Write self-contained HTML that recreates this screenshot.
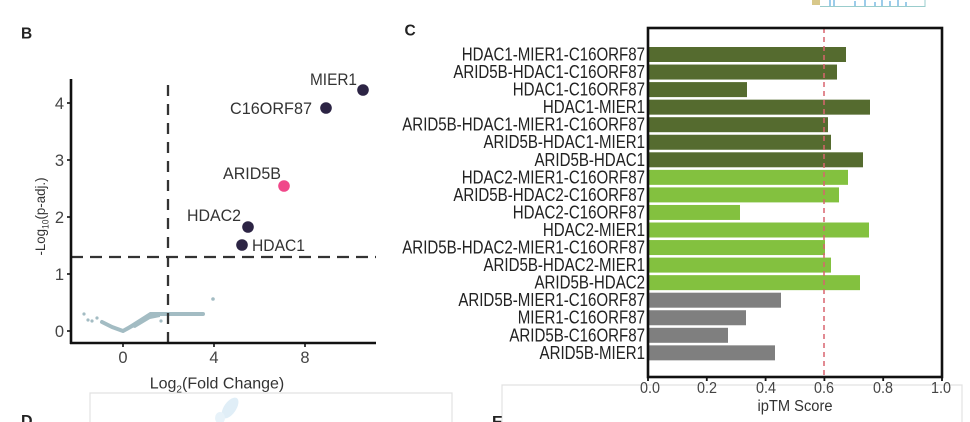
<!DOCTYPE html>
<html><head><meta charset="utf-8"><style>
html,body{margin:0;padding:0;background:#fff;}
svg{display:block;font-family:"Liberation Sans",Arial,sans-serif;}
</style></head><body>
<svg width="970" height="422" viewBox="0 0 970 422" xmlns="http://www.w3.org/2000/svg">
<rect width="970" height="422" fill="#fff"/>
<!-- top-right fragment -->
<g stroke="#5aa9dc" stroke-width="1.2">
<line x1="830" y1="0" x2="830" y2="6"/><line x1="834" y1="0" x2="834" y2="6"/><line x1="855" y1="1" x2="855" y2="6"/><line x1="865" y1="0" x2="865" y2="6"/><line x1="875" y1="2" x2="875" y2="6"/><line x1="882" y1="0" x2="882" y2="6"/><line x1="890" y1="1" x2="890" y2="6"/><line x1="898" y1="0" x2="898" y2="6"/><line x1="906" y1="2" x2="906" y2="6"/>
</g>
<line x1="820" y1="6.5" x2="925" y2="6.5" stroke="#9cc" stroke-width="1"/>
<line x1="925" y1="0" x2="925" y2="7" stroke="#9cc" stroke-width="1"/>
<rect x="812" y="0" width="8" height="5" fill="#d8c88a"/>

<!-- faint panel boxes -->
<g stroke="#e2e2e2" stroke-width="1.2" fill="none">
<polyline points="90,422 90,393 452,393 452,422"/>
<polyline points="502,422 502,385 962,385 962,422"/>
</g>
<!-- blob in D -->
<g opacity="0.35">
<ellipse cx="230" cy="408" rx="6" ry="12" fill="#a9d1ea" transform="rotate(35 230 408)"/>
<ellipse cx="220" cy="418" rx="5" ry="6" fill="#bcdcef"/>
</g>
<text x="21" y="426" font-size="16" font-weight="bold" fill="#222">D</text>
<text x="492" y="427" font-size="16" font-weight="bold" fill="#222">E</text>

<!-- Panel B -->
<text x="21" y="38.5" font-size="15.5" font-weight="bold" fill="#222">B</text>
<!-- gray cloud -->
<g fill="#a3bcc3">
<polyline points="102,322 112,327 123,331 132,326 142,320 150,316 160,314 203,314" fill="none" stroke="#a3bcc3" stroke-width="4" stroke-linejoin="round" stroke-linecap="round"/>
<polygon points="128,326 150,312 160,312 160,317 150,319 135,328"/>
<circle cx="84" cy="314" r="1.6"/><circle cx="88" cy="320" r="1.6"/><circle cx="92" cy="321" r="1.6"/><circle cx="97" cy="318" r="1.6"/><circle cx="161" cy="321" r="1.6"/><circle cx="213" cy="299" r="1.8"/>
</g>
<!-- dashed lines -->
<line x1="168" y1="85" x2="168" y2="343" stroke="#333" stroke-width="2.3" stroke-dasharray="11 8"/>
<line x1="71" y1="257" x2="376" y2="257" stroke="#333" stroke-width="2.3" stroke-dasharray="12 7"/>
<!-- axes -->
<line x1="71" y1="79" x2="71" y2="344" stroke="#111" stroke-width="2.6"/>
<line x1="70" y1="343" x2="376" y2="343" stroke="#111" stroke-width="2.6"/>
<g stroke="#111" stroke-width="1.6">
<line x1="67" y1="331" x2="71" y2="331"/><line x1="67" y1="274" x2="71" y2="274"/><line x1="67" y1="217" x2="71" y2="217"/><line x1="67" y1="160" x2="71" y2="160"/><line x1="67" y1="103" x2="71" y2="103"/>
<line x1="123" y1="343" x2="123" y2="347"/><line x1="214" y1="343" x2="214" y2="347"/><line x1="305" y1="343" x2="305" y2="347"/>
</g>
<g font-size="16.5" fill="#444" text-anchor="end">
<text x="64" y="337">0</text><text x="64" y="280">1</text><text x="64" y="223">2</text><text x="64" y="166">3</text><text x="64" y="109">4</text>
</g>
<g font-size="16.5" fill="#444" text-anchor="middle">
<text x="123" y="363">0</text><text x="214" y="363">4</text><text x="305" y="363">8</text>
</g>
<text x="217" y="388.5" font-size="16" fill="#333" text-anchor="middle">Log<tspan font-size="10" dy="4">2</tspan><tspan dy="-4">(Fold Change)</tspan></text>
<text transform="translate(45,216.5) rotate(-90)" font-size="14" fill="#333" text-anchor="middle" textLength="78" lengthAdjust="spacingAndGlyphs">-Log<tspan font-size="9" dy="3.5">10</tspan><tspan dy="-3.5">(p-adj.)</tspan></text>
<!-- points -->
<circle cx="363" cy="90" r="5.8" fill="#2c2444"/>
<circle cx="326" cy="108" r="5.8" fill="#2c2444"/>
<circle cx="284" cy="186" r="5.8" fill="#f0488a"/>
<circle cx="248" cy="227" r="5.8" fill="#2c2444"/>
<circle cx="242" cy="245" r="5.8" fill="#2c2444"/>
<g font-size="17" fill="#333">
<text x="357" y="85" text-anchor="end" textLength="47" lengthAdjust="spacingAndGlyphs">MIER1</text>
<text x="312" y="114" text-anchor="end" textLength="82" lengthAdjust="spacingAndGlyphs">C16ORF87</text>
<text x="223" y="179" textLength="58" lengthAdjust="spacingAndGlyphs">ARID5B</text>
<text x="187" y="221" textLength="54" lengthAdjust="spacingAndGlyphs">HDAC2</text>
<text x="252" y="251" textLength="53" lengthAdjust="spacingAndGlyphs">HDAC1</text>
</g>

<!-- Panel C -->
<text x="404.5" y="35.5" font-size="15.5" font-weight="bold" fill="#222">C</text>
<g>
<rect x="649" y="47" width="197" height="15" fill="#556b2f"/>
<rect x="649" y="64.55" width="188" height="15" fill="#556b2f"/>
<rect x="649" y="82.1" width="98" height="15" fill="#556b2f"/>
<rect x="649" y="99.65" width="221" height="15" fill="#556b2f"/>
<rect x="649" y="117.2" width="179" height="15" fill="#556b2f"/>
<rect x="649" y="134.75" width="182" height="15" fill="#556b2f"/>
<rect x="649" y="152.3" width="214" height="15" fill="#556b2f"/>
<rect x="649" y="169.85" width="199" height="15" fill="#83c13f"/>
<rect x="649" y="187.4" width="190" height="15" fill="#83c13f"/>
<rect x="649" y="204.95" width="91" height="15" fill="#83c13f"/>
<rect x="649" y="222.5" width="220" height="15" fill="#83c13f"/>
<rect x="649" y="240.05" width="176" height="15" fill="#83c13f"/>
<rect x="649" y="257.6" width="182" height="15" fill="#83c13f"/>
<rect x="649" y="275.15" width="211" height="15" fill="#83c13f"/>
<rect x="649" y="292.7" width="132" height="15" fill="#7f7f7f"/>
<rect x="649" y="310.25" width="97" height="15" fill="#7f7f7f"/>
<rect x="649" y="327.8" width="79" height="15" fill="#7f7f7f"/>
<rect x="649" y="345.35" width="126" height="15" fill="#7f7f7f"/>
</g>
<line x1="824" y1="28" x2="824" y2="377" stroke="#d8646e" stroke-width="1.5" stroke-dasharray="5 4"/>
<rect x="648" y="28" width="294" height="349" fill="none" stroke="#111" stroke-width="2.6"/>
<g stroke="#111" stroke-width="1.8">
<line x1="648" y1="377" x2="648" y2="381"/><line x1="706.8" y1="377" x2="706.8" y2="381"/><line x1="765.6" y1="377" x2="765.6" y2="381"/><line x1="824.4" y1="377" x2="824.4" y2="381"/><line x1="883.2" y1="377" x2="883.2" y2="381"/><line x1="942" y1="377" x2="942" y2="381"/>
</g>
<g font-size="16" fill="#444" text-anchor="middle">
<text x="650" y="393" textLength="20" lengthAdjust="spacingAndGlyphs">0.0</text><text x="707" y="393" textLength="20" lengthAdjust="spacingAndGlyphs">0.2</text><text x="766" y="393" textLength="20" lengthAdjust="spacingAndGlyphs">0.4</text><text x="824" y="393" textLength="20" lengthAdjust="spacingAndGlyphs">0.6</text><text x="883" y="393" textLength="20" lengthAdjust="spacingAndGlyphs">0.8</text><text x="941" y="393" textLength="20" lengthAdjust="spacingAndGlyphs">1.0</text>
</g>
<text x="795" y="411" font-size="15.5" fill="#333" text-anchor="middle" textLength="75" lengthAdjust="spacingAndGlyphs">ipTM Score</text>
<g transform="translate(645 0) scale(0.815 1)" font-size="18.5" fill="#222" text-anchor="end">
<text x="0" y="60.5">HDAC1-MIER1-C16ORF87</text>
<text x="0" y="78.05">ARID5B-HDAC1-C16ORF87</text>
<text x="0" y="95.6">HDAC1-C16ORF87</text>
<text x="0" y="113.15">HDAC1-MIER1</text>
<text x="0" y="130.7">ARID5B-HDAC1-MIER1-C16ORF87</text>
<text x="0" y="148.25">ARID5B-HDAC1-MIER1</text>
<text x="0" y="165.8">ARID5B-HDAC1</text>
<text x="0" y="183.35">HDAC2-MIER1-C16ORF87</text>
<text x="0" y="200.9">ARID5B-HDAC2-C16ORF87</text>
<text x="0" y="218.45">HDAC2-C16ORF87</text>
<text x="0" y="236">HDAC2-MIER1</text>
<text x="0" y="253.55">ARID5B-HDAC2-MIER1-C16ORF87</text>
<text x="0" y="271.1">ARID5B-HDAC2-MIER1</text>
<text x="0" y="288.65">ARID5B-HDAC2</text>
<text x="0" y="306.2">ARID5B-MIER1-C16ORF87</text>
<text x="0" y="323.75">MIER1-C16ORF87</text>
<text x="0" y="341.3">ARID5B-C16ORF87</text>
<text x="0" y="358.85">ARID5B-MIER1</text>
</g>
</svg>
</body></html>
